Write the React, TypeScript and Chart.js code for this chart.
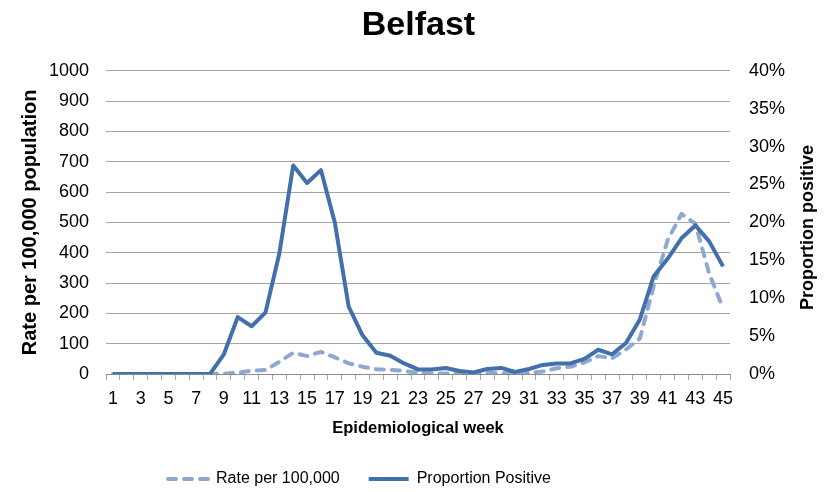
import React, { useEffect, useRef } from "react";
import { Chart, registerables } from "chart.js";

Chart.register(...registerables);

const weeks = Array.from({ length: 45 }, (_, i) => String(i + 1));

const rateValues = [
  0, 0, 0, 0, 0, 0, 0, 0, 1, 4,
  11, 13, 40, 70, 59, 73, 55, 35, 24, 16,
  14, 10, 4, 2, 2, 2, 2, 3, 3, 2,
  4, 8, 19, 24, 38, 59, 52, 81, 117, 290,
  441, 528, 496, 331, 216,
];

const proportionValues = [
  0, 0, 0, 0, 0, 0, 0, 0, 2.6, 7.5,
  6.3, 8.1, 15.9, 27.5, 25.2, 26.9, 20.0, 8.9, 5.1, 2.8,
  2.4, 1.4, 0.6, 0.6, 0.8, 0.4, 0.2, 0.66, 0.8, 0.26,
  0.66, 1.2, 1.4, 1.4, 2.0, 3.2, 2.6, 4.1, 7.2, 12.9,
  15.2, 17.9, 19.6, 17.5, 14.2,
];

const seriesNames = ["Rate per 100,000", "Proportion Positive"];
const chartTitle = "Belfast";
const xTitle = "Epidemiological week";
const leftTitle = "Rate per 100,000 population";
const rightTitle = "Proportion positive";

const FONT = "'Liberation Sans', Arial, sans-serif";
const SOLID = "#4170AA";
const DASHED = "#8EA9D1";
const GRID = "#A6A6A6";

const rightTitlePlugin = {
  id: "rightTitle",
  afterDraw(chart: any) {
    const { ctx, chartArea } = chart;
    ctx.save();
    ctx.font = `bold 18px ${FONT}`;
    ctx.fillStyle = "#000";
    ctx.textAlign = "center";
    ctx.textBaseline = "middle";
    ctx.translate(808, (chartArea.top + chartArea.bottom) / 2 + 5);
    ctx.rotate(-Math.PI / 2);
    ctx.fillText(rightTitle, 0, 0);
    ctx.restore();
  },
};

// The reference legend sits left of the chart's centre: shift the legend box.
const legendShiftPlugin = {
  id: "legendShift",
  afterLayout(chart: any) {
    const lg = chart.legend;
    if (lg) {
      lg.left -= 59;
      lg.right -= 59;
    }
  },
};

export default function App() {
  const ref = useRef<HTMLCanvasElement | null>(null);

  useEffect(() => {
    if (!ref.current) return;
    const chart = new Chart(ref.current, {
      type: "line",
      data: {
        labels: weeks,
        datasets: [
          {
            label: seriesNames[0],
            data: rateValues,
            yAxisID: "y",
            borderColor: DASHED,
            backgroundColor: DASHED,
            borderWidth: 4,
            borderDash: [8, 8],
            borderCapStyle: "round",
            borderJoinStyle: "round",
            pointRadius: 0,
            tension: 0,
            order: 1,
          },
          {
            label: seriesNames[1],
            data: proportionValues,
            yAxisID: "y1",
            borderColor: SOLID,
            backgroundColor: SOLID,
            borderWidth: 4,
            borderJoinStyle: "round",
            pointRadius: 0,
            tension: 0,
            order: 0,
          },
        ],
      },
      options: {
        responsive: false,
        animation: false,
        devicePixelRatio: 1,
        layout: { padding: 0 },
        plugins: {
          title: {
            display: true,
            text: chartTitle,
            color: "#000",
            font: { family: FONT, size: 34, weight: "bold" },
            padding: { top: 5, bottom: 25 },
          },
          legend: {
            position: "bottom",
            maxHeight: 50,
            labels: {
              usePointStyle: true,
              pointStyle: "line",
              pointStyleWidth: 40,
              padding: 29,
              color: "#000",
              font: { family: FONT, size: 16 },
              sort: (a: any, b: any) => a.datasetIndex - b.datasetIndex,
              generateLabels: (c: any) => {
                const items = (Chart.defaults as any).plugins.legend.labels.generateLabels(c);
                items.forEach((it: any) => {
                  const ds = c.data.datasets[it.datasetIndex];
                  it.lineDash = ds.borderDash || [];
                  it.lineWidth = 4;
                  it.strokeStyle = ds.borderColor;
                  it.fillStyle = ds.borderColor;
                  it.lineCap = ds.borderCapStyle || "butt";
                  it.pointStyle = "line";
                });
                return items;
              },
            },
          },
          tooltip: { enabled: false },
        },
        scales: {
          x: {
            type: "category",
            offset: true,
            grid: {
              offset: true,
              drawOnChartArea: false,
              drawTicks: true,
              tickLength: 6,
              color: GRID,
            },
            border: { display: true, color: "#8C8C8C", width: 1 },
            ticks: {
              autoSkip: false,
              maxRotation: 0,
              minRotation: 0,
              padding: 8,
              color: "#000",
              font: { family: FONT, size: 18 },
              callback: (_v: any, i: number) => (i % 2 === 0 ? weeks[i] : ""),
            },
            title: {
              display: true,
              text: xTitle,
              color: "#000",
              font: { family: FONT, size: 16.5, weight: "bold" },
              padding: { top: 0, bottom: 4 },
            },
            afterFit: (s: any) => {
              s.height = 68;
            },
          },
          y: {
            position: "left",
            min: 0,
            max: 1000,
            ticks: {
              stepSize: 100,
              padding: 17,
              color: "#000",
              font: { family: FONT, size: 18 },
              callback: (v: any) => String(v),
            },
            grid: { color: GRID, drawTicks: false, lineWidth: 1 },
            border: { display: false },
            title: {
              display: true,
              text: leftTitle,
              color: "#000",
              font: { family: FONT, size: 20, weight: "bold" },
              padding: { top: 18, bottom: 0 },
            },
            afterFit: (s: any) => {
              s.width = 106;
            },
          },
          y1: {
            position: "right",
            min: 0,
            max: 40,
            ticks: {
              stepSize: 5,
              padding: 19,
              color: "#000",
              font: { family: FONT, size: 18 },
              callback: (v: any) => `${v}%`,
            },
            grid: { drawOnChartArea: false, drawTicks: false },
            border: { display: false },
            afterFit: (s: any) => {
              s.width = 107;
            },
          },
        },
      },
      plugins: [rightTitlePlugin, legendShiftPlugin],
    } as any);
    return () => chart.destroy();
  }, []);

  return (
    <div style={{ position: "fixed", left: 0, top: 0, width: 837, height: 492, background: "#fff" }}>
      <canvas ref={ref} width={837} height={492} />
    </div>
  );
}
